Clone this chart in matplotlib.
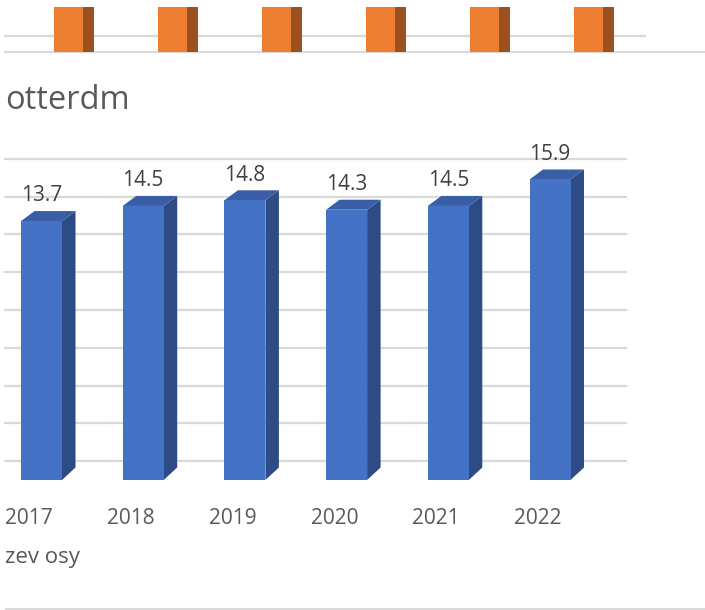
import matplotlib
matplotlib.use("Agg")
import matplotlib.pyplot as plt
from matplotlib.patches import Polygon

plt.rcParams['font.family'] = ['Open Sans', 'DejaVu Sans']

# ---- data ----
years = ["2017", "2018", "2019", "2020", "2021", "2022"]
values = [13.7, 14.5, 14.8, 14.3, 14.5, 15.9]
grid_values = [1, 3, 5, 7, 9, 11, 13, 15, 17]
# upper (cropped) chart: orange series, tops cut off by the crop
orange_values = [6, 6, 6, 6, 6, 6]
top_grid_values = [1]
top_title = "otterdm"
axis_title = "zev osy"

W, H = 705, 610
fig = plt.figure(figsize=(W / 100, H / 100), dpi=100)

# colours
BLUE_FRONT = "#4472C4"
BLUE_SIDE = "#2D4C85"
BLUE_TOP = "#3A5EA6"
OR_FRONT = "#ED7D31"
OR_SIDE = "#9C4F1F"
GRID = "#D9D9D9"

# ---------------- main (blue) 3D column chart ----------------
px_per_unit = 18.9
base_px = 480
cat_px0, cat_step = 41.5, 101.7
ax = fig.add_axes([0, 0, 1, 1])
ax.set_xlim(-cat_px0 / cat_step, (W - cat_px0) / cat_step)
ax.set_ylim((base_px - H) / px_per_unit, base_px / px_per_unit)
ax.axis("off")

for g in grid_values:
    ax.axhline(g, xmin=5 / W, xmax=626 / W, color=GRID, lw=1.6, zorder=1)

w = 41 / cat_step
dx = 13.5 / cat_step
dy_top = 10 / px_per_unit
dy_bot = 12.5 / px_per_unit
xs = list(range(len(values)))
ax.bar(xs, values, width=w, color=BLUE_FRONT, zorder=3, linewidth=0)
for i, v in zip(xs, values):
    l, r = i - w / 2, i + w / 2
    side = Polygon([(r, 0), (r + dx, dy_bot), (r + dx, v + dy_top), (r, v)],
                   closed=True, facecolor=BLUE_SIDE, edgecolor="none", zorder=2.9)
    top = Polygon([(l, v), (r, v), (r + dx, v + dy_top), (l + dx, v + dy_top)],
                  closed=True, facecolor=BLUE_TOP, edgecolor="none", zorder=2.9)
    ax.add_patch(side)
    ax.add_patch(top)
    ax.text(i, v + 1.33, f"{v:.1f}", ha="center", va="center",
            fontsize=15, color="#404040", zorder=5)
    ax.text(i - 0.12, (base_px - 518) / px_per_unit, years[i], ha="center",
            va="center", fontsize=15, color="#595959")

# axis title (partially cropped)
fig.text(5 / W, 1 - 563 / H, axis_title, ha="left", va="baseline",
         fontsize=16, color="#595959")
# bottom border line of the next element
fig.add_artist(plt.Line2D([6 / W, 1], [1 - 609 / H] * 2, color=GRID, lw=1.4))

# ---------------- upper (orange) cropped chart ----------------
top_px0, top_px1 = 7, 60
t_base, t_ppu = 52, 16
o_px0, o_step = 68.5, 104
axt = fig.add_axes([0, 1 - top_px1 / H, 1, (top_px1 - top_px0) / H])
axt.set_xlim(-o_px0 / o_step, (W - o_px0) / o_step)
axt.set_ylim(-(top_px1 - t_base) / t_ppu, (t_base - top_px0) / t_ppu)
axt.axis("off")
for g in top_grid_values:
    axt.axhline(g, xmin=5 / W, xmax=645 / W, color=GRID, lw=1.6, zorder=1)
axt.axhline(0, xmin=5 / W, xmax=1, color=GRID, lw=1.6, zorder=1)
ow = 29 / o_step
os_ = 10.5 / o_step
oxs = list(range(len(orange_values)))
axt.bar(oxs, orange_values, width=ow, color=OR_FRONT, zorder=3, linewidth=0)
axt.bar([x + ow / 2 + os_ / 2 for x in oxs], orange_values, width=os_,
        color=OR_SIDE, zorder=3, linewidth=0)

fig.text(5 / W, 1 - 109 / H, top_title, ha="left", va="baseline",
         fontsize=23.5, color="#595959")

fig.savefig("out.png", dpi=100)
